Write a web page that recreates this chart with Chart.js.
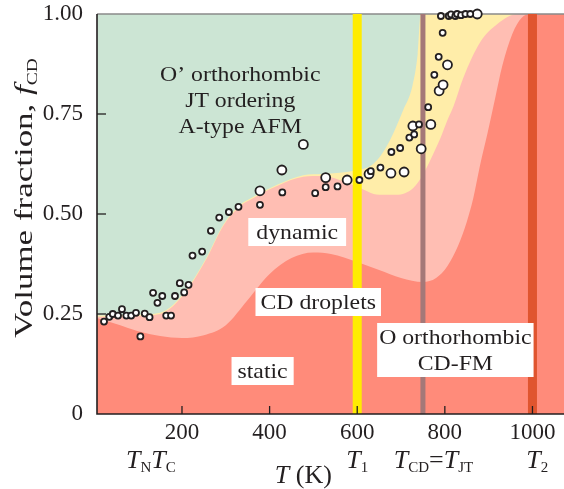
<!DOCTYPE html>
<html><head><meta charset="utf-8">
<script src="https://cdn.jsdelivr.net/npm/chart.js@4/dist/chart.umd.min.js"></script>
<style>html,body{margin:0;padding:0;background:#fff;}#wrap{width:564px;height:489px;}</style>
</head><body><div id="wrap"><canvas id="c" width="564" height="489"></canvas></div>
<script>
// ---- data ----
const xTicks = [200, 400, 600, 800, 1000];
const yTicks = [0, 0.25, 0.5, 0.75, 1];
const yTickLabels = ['0', '0.25', '0.50', '0.75', '1.00'];
const xMin = 6, xMax = 1072;

// boundary of the "static" CD region (top edge)
const staticT = [6,50,100,150,200,250,300,350,400,450,500,540,600,650,700,750,780,806,830,850,865,880,897,915,931,954,975,995,1072];
const staticF = [0.24,0.225,0.207,0.195,0.19,0.197,0.222,0.285,0.35,0.39,0.404,0.40,0.38,0.36,0.34,0.33,0.34,0.37,0.42,0.48,0.54,0.62,0.70,0.79,0.87,0.95,0.99,1.0,1.0];
// top edge of the "CD droplets" region
const dropletT = [6,50,100,150,180,218,257,294,333,355,417,477,520,560,600,650,690,728,751,767,790,806,820,842,881,920,966,1072];
const dropletF = [0.243,0.244,0.245,0.25,0.27,0.32,0.39,0.47,0.52,0.535,0.57,0.593,0.595,0.585,0.568,0.548,0.548,0.565,0.60,0.635,0.69,0.735,0.77,0.84,0.93,0.975,1.0,1.0];
// top edge of the "dynamic" region (bottom of O' phase)
const dynamicT = [6,50,100,150,180,218,257,294,333,355,417,477,520,560,600,630,653,675,705,726,738,745,1072];
const dynamicF = [0.246,0.247,0.248,0.253,0.273,0.323,0.393,0.473,0.523,0.538,0.573,0.597,0.60,0.603,0.61,0.62,0.645,0.685,0.76,0.82,0.9,1.0,1.0];
// characteristic temperatures T1, TCD=TJT, T2
const transitionT = [600, 750, 1000];
// measured points
const smallT = [22,34,42,54,63,73,84,95,105,115,126,134,144,155,164,175,184,195,205,215,224,246,266,285,307,329,378,429,504,528,555,605,631,653,678,698,719,730,741,762,776,786,795,791,809,814,824,828,837,847,858];
const smallF = [0.231,0.243,0.25,0.246,0.262,0.246,0.246,0.253,0.194,0.251,0.242,0.303,0.278,0.295,0.246,0.246,0.295,0.327,0.304,0.323,0.396,0.406,0.458,0.491,0.505,0.518,0.523,0.554,0.552,0.567,0.569,0.585,0.607,0.616,0.655,0.665,0.691,0.699,0.724,0.767,0.848,0.893,0.953,0.995,0.995,0.999,0.995,1.0,0.997,1.0,1.0];
const largeT = [378,428,477,528,577,627,677,707,727,746,768,787,796,806,874];
const largeF = [0.558,0.61,0.674,0.591,0.585,0.600,0.602,0.605,0.72,0.663,0.724,0.808,0.823,0.873,1.0];

// ---- helpers ----
const pts = (xs, ys) => xs.map((x, i) => ({x, y: ys[i]}));
const SERIF = '"Liberation Serif", "Times New Roman", serif';
const INK = '#231f20';

const area = (xs, ys, color, order) => ({
  type: 'line', data: pts(xs, ys), order, fill: 'origin',
  backgroundColor: color, borderWidth: 0, borderColor: color,
  pointRadius: 0, cubicInterpolationMode: 'monotone'
});
const vline = (t, color, w) => ({
  type: 'line', data: [{x: t, y: 0}, {x: t, y: 1}], order: 1, fill: false,
  borderColor: color, borderWidth: w, pointRadius: 0, borderCapStyle: 'butt'
});

const regionLabels = [
  {T: 333, f: 0.8325, lines: ['O\u2019 orthorhombic', 'JT ordering', 'A-type AFM'], box: false},
  {T: 463, f: 0.4375, lines: ['dynamic'], box: true, pad: 8},
  {T: 511, f: 0.2625, lines: ['CD droplets'], box: true, pad: 5},
  {T: 384, f: 0.09, lines: ['static'], box: true, pad: 6},
  {T: 824, f: 0.175, lines: ['O orthorhombic', 'CD-FM'], box: true, pad: 2}
];
const axisMarks = [
  {T: 129, segs: [['T','i'],['N','s'],['T','i'],['C','s']]},
  {T: 600, segs: [['T','i'],['1','s']]},
  {T: 774, segs: [['T','i'],['CD','s'],['=','r'],['T','i'],['JT','s']]},
  {T: 1011, segs: [['T','i'],['2','s']]}
];

function segFont(kind, base) {
  if (kind === 'i') return 'italic ' + base + 'px ' + SERIF;
  if (kind === 's') return Math.round(base * 0.58) + 'px ' + SERIF;
  return base + 'px ' + SERIF;
}
function drawSegs(ctx, segs, cx, baseY, base, subDy) {
  let w = 0;
  segs.forEach(s => { ctx.font = segFont(s[1], base); w += ctx.measureText(s[0]).width; });
  let x = cx - w / 2;
  segs.forEach(s => {
    ctx.font = segFont(s[1], base);
    ctx.fillText(s[0], x, baseY + (s[1] === 's' ? subDy : 0));
    x += ctx.measureText(s[0]).width;
  });
  return w;
}

const decor = {
  id: 'decor',
  afterDatasetsDraw(chart) {
    const {ctx, chartArea: a, scales: {x, y}} = chart;
    ctx.save();
    ctx.strokeStyle = INK; ctx.lineWidth = 1.6;
    ctx.beginPath();
    ctx.moveTo(a.left, a.top); ctx.lineTo(a.left, a.bottom); ctx.lineTo(a.right, a.bottom);
    ctx.stroke();
    ctx.lineWidth = 1.3;
    xTicks.forEach(v => {
      const px = x.getPixelForValue(v);
      ctx.beginPath(); ctx.moveTo(px, a.bottom); ctx.lineTo(px, a.bottom - 8); ctx.stroke();
    });
    yTicks.forEach(v => {
      if (v <= 0 || v >= 1) return;
      const py = y.getPixelForValue(v);
      ctx.beginPath(); ctx.moveTo(a.left, py); ctx.lineTo(a.left + 9, py); ctx.stroke();
    });

    // region labels
    const fs = 22, lh = 26, sx = 1.08;
    regionLabels.forEach(L => {
      const cx = x.getPixelForValue(L.T), by = y.getPixelForValue(L.f);
      ctx.font = fs + 'px ' + SERIF;
      const wMax = Math.max(...L.lines.map(t => ctx.measureText(t).width)) * sx;
      if (L.box) {
        const top = by - 21, bot = by + (L.lines.length - 1) * lh + 7;
        ctx.fillStyle = '#ffffff';
        ctx.fillRect(cx - wMax / 2 - L.pad, top, wMax + 2 * L.pad, bot - top);
      }
      ctx.fillStyle = INK; ctx.textAlign = 'center'; ctx.textBaseline = 'alphabetic';
      L.lines.forEach((t, i) => {
        ctx.save(); ctx.translate(cx, by + i * lh); ctx.scale(sx, 1);
        ctx.fillText(t, 0, 0); ctx.restore();
      });
    });

    // x-axis characteristic temperature labels
    ctx.textAlign = 'left'; ctx.fillStyle = INK;
    axisMarks.forEach(m => drawSegs(ctx, m.segs, x.getPixelForValue(m.T), a.bottom + 54, 26, 4));
    drawSegs(ctx, [['T','i'],[' (K)','r']], x.getPixelForValue(477), a.bottom + 69, 26, 4);

    // y-axis title
    ctx.save();
    ctx.translate(32, 198); ctx.rotate(-Math.PI / 2);
    const ysegs = [['Volume fraction, ','r'],['f','i'],['CD','s']];
    let w = 0;
    ysegs.forEach(s => { ctx.font = segFont(s[1], 25); w += ctx.measureText(s[0]).width; });
    ctx.scale(280 / w, 1);
    drawSegs(ctx, ysegs, 0, 0, 25, 5);
    ctx.restore();
    ctx.restore();
  }
};

new Chart(document.getElementById('c'), {
  type: 'line',
  data: {
    datasets: [
      {type: 'scatter', data: pts(smallT, smallF), order: 0, pointRadius: 3, pointBorderWidth: 1.8,
        pointBackgroundColor: '#ffffff', pointBorderColor: INK, clip: false, showLine: false},
      {type: 'scatter', data: pts(largeT, largeF), order: 0, pointRadius: 4.5, pointBorderWidth: 1.8,
        pointBackgroundColor: '#ffffff', pointBorderColor: INK, clip: false, showLine: false},
      vline(transitionT[0], '#FFEC00', 9),
      vline(transitionT[1], '#A47878', 5),
      vline(transitionT[2], '#E0552F', 9),
      {type: 'line', data: [{x: xMin, y: 1}, {x: xMax, y: 1}], order: 1, fill: false,
        borderColor: '#8a8a8a', borderWidth: 1.5, pointRadius: 0, clip: false},
      area(staticT, staticF, '#FF8B7A', 2),
      area(dropletT, dropletF, '#FFBEB3', 3),
      area(dynamicT, dynamicF, '#FFEDA9', 4),
      area([xMin, xMax], [1, 1], '#CCE5D4', 5)
    ]
  },
  options: {
    responsive: false, animation: false, devicePixelRatio: 1,
    layout: {autoPadding: false, padding: {top: 14, right: 0, left: 0, bottom: 0}},
    plugins: {legend: {display: false}, tooltip: {enabled: false}},
    scales: {
      x: {
        type: 'linear', min: xMin, max: xMax,
        afterBuildTicks: s => { s.ticks = xTicks.map(v => ({value: v})); },
        afterFit: s => { s.height = 75; s.paddingLeft = 0; s.paddingRight = 0; },
        grid: {display: false, drawTicks: false}, border: {display: false},
        ticks: {font: {family: SERIF, size: 23}, color: INK, padding: 5, maxRotation: 0, autoSkip: false,
          callback: v => String(v)}
      },
      y: {
        type: 'linear', min: 0, max: 1,
        afterBuildTicks: s => { s.ticks = yTicks.map(v => ({value: v})); },
        afterFit: s => { s.width = 97; s.paddingTop = 0; s.paddingBottom = 0; },
        grid: {display: false, drawTicks: false}, border: {display: false},
        ticks: {font: {family: SERIF, size: 23}, color: INK, padding: 14, autoSkip: false,
          callback: (v, i) => yTickLabels[i]}
      }
    }
  },
  plugins: [decor]
});
</script></body></html>
